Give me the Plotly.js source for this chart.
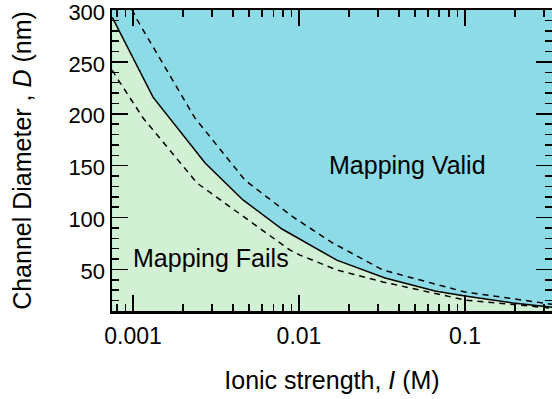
<!DOCTYPE html>
<html>
<head>
<meta charset="utf-8">
<script src="https://cdn.plot.ly/plotly-3.0.1.min.js"></script>
<style>html,body{margin:0;padding:0;background:#fff;}#chart{width:552px;height:399px;}</style>
</head>
<body>
<div id="chart"></div>
<script>
// Boundary (solid) between "Mapping Fails" and "Mapping Valid"
var boundaryI = [0.00075, 0.00132, 0.00272, 0.0046, 0.0079, 0.0169, 0.033, 0.066, 0.1, 0.195, 0.335];
var boundaryD = [293, 216, 152.6, 117, 89, 59, 41.8, 29.3, 24.5, 17.7, 13.5];
// Upper dashed curve
var upperI = [0.00092, 0.00106, 0.00236, 0.00473, 0.0092, 0.016, 0.032, 0.1, 0.335];
var upperD = [310, 290.4, 196, 136, 100.6, 75.5, 49.5, 28.3, 16.5];
// Lower dashed curve
var lowerI = [0.00075, 0.00078, 0.00115, 0.00243, 0.0088, 0.0101, 0.0169, 0.032, 0.1, 0.335];
var lowerD = [242, 237.4, 196, 133.3, 68.8, 64, 49.5, 38, 20.6, 12.7];
// Axis ticks
var xTickVals = [0.001, 0.01, 0.1];
var xTickText = ['0.001', '0.01', '0.1'];
var yTickVals = [50, 100, 150, 200, 250, 300];
// Region labels
var labelText = ['Mapping Valid', 'Mapping Fails'];
var labelI = [0.0448, 0.00295];
var labelD = [150.7, 61];

var green = '#D2F0D4';
var blue = '#8CDBE6';
var font = 'Liberation Sans, Arial, Helvetica, sans-serif';

var traces = [
  {x: boundaryI, y: boundaryD, mode: 'lines', fill: 'tozeroy', fillcolor: green,
   line: {color: '#000', width: 1.5}, hoverinfo: 'skip'},
  {x: upperI, y: upperD, mode: 'lines', line: {color: '#000', width: 1.5, dash: '6px,5px'}, hoverinfo: 'skip'},
  {x: lowerI, y: lowerD, mode: 'lines', line: {color: '#000', width: 1.5, dash: '6px,5px'}, hoverinfo: 'skip'}
];

var layout = {
  width: 552, height: 399,
  margin: {l: 112, r: 0, t: 10, b: 88},
  paper_bgcolor: '#fff',
  plot_bgcolor: blue,
  showlegend: false,
  font: {family: font, size: 24, color: '#000'},
  xaxis: {
    type: 'log',
    range: [-3.1265, -0.4755],
    tickvals: xTickVals, ticktext: xTickText,
    ticks: 'inside', ticklen: 16, tickwidth: 1.5, tickcolor: '#000',
    minor: {dtick: 'D1', ticks: 'inside', ticklen: 7, tickwidth: 1.5, tickcolor: '#000', showgrid: false},
    showline: true, linewidth: 2.5, linecolor: '#000', mirror: 'allticks',
    showgrid: false, zeroline: false,
    ticklabelstandoff: 3,
    tickfont: {family: font, size: 23, color: '#000'},
    title: {text: 'Ionic strength, <i>I</i> (M)', font: {family: font, size: 25, color: '#000'}, standoff: 24}
  },
  yaxis: {
    range: [10, 300],
    tickvals: yTickVals,
    ticks: 'inside', ticklen: 16, tickwidth: 1.5, tickcolor: '#000',
    minor: {dtick: 10, tick0: 0, ticks: 'inside', ticklen: 7, tickwidth: 1.5, tickcolor: '#000', showgrid: false},
    showline: true, linewidth: 2.5, linecolor: '#000', mirror: 'allticks',
    showgrid: false, zeroline: false,
    ticklabeloverflow: 'allow',
    ticklabelshift: 2,
    tickfont: {family: font, size: 22, color: '#000'},
    title: {text: 'Channel Diameter , <i>D</i> (nm)', font: {family: font, size: 25, color: '#000'}, standoff: 30}
  },
  annotations: labelText.map(function(t, i) {
    return {x: Math.log10(labelI[i]), y: labelD[i], xref: 'x', yref: 'y', text: t, showarrow: false,
            font: {family: font, size: 25, color: '#000'}, xanchor: 'center', yanchor: 'middle'};
  })
};

Plotly.newPlot('chart', traces, layout, {displayModeBar: false, staticPlot: true});
</script>
</body>
</html>
